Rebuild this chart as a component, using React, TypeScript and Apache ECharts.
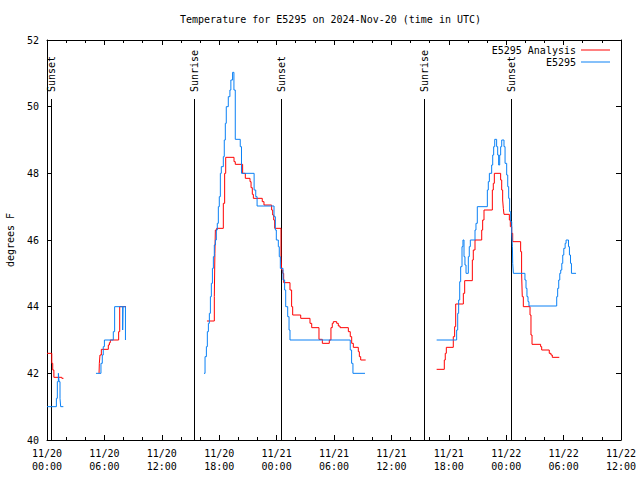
import React, { useEffect, useRef } from "react";
import * as echarts from "echarts";

const FONT = "DejaVu Sans Mono";
const TITLE = "Temperature for E5295 on 2024-Nov-20 (time in UTC)";
const Y_NAME = "degrees F";
const NAME_ANALYSIS = "E5295 Analysis";
const NAME_OBS = "E5295";
const COLOR_ANALYSIS = "#ff0000";
const COLOR_OBS = "#0a80f5";

// axis ranges (hours since 11/20 00:00 UTC)
const X_MIN = 0;
const X_MAX = 60;
const X_STEP = 6;
const Y_MIN = 40;
const Y_MAX = 52;
const Y_STEP = 2;

// sunrise / sunset markers
const sunTimes = [0.49, 15.37, 24.46, 39.44, 48.53];
const sunLabels = ["Sunset", "Sunrise", "Sunset", "Sunrise", "Sunset"];
const SUN_LINE_TOP = 50.23;
const SUN_LABEL_Y = 50.44;

// E5295 Analysis (red), step segments [hour, degF]
const analysisSeg1 = [[0, 42.6], [0.5, 42.3], [0.6, 42.1], [0.72, 41.88], [1.55, 41.85], [1.72, 41.85]];
const analysisSeg2 = [[5.44, 42.0], [5.47, 42.3], [5.54, 42.55], [5.68, 42.72], [6.41, 42.85], [6.52, 42.92], [6.62, 43.0], [7.49, 43.25], [7.6, 44.0], [8.26, 44.0]];
const analysisSeg3 = [[16.72, 43.57], [17.49, 44.3], [17.55, 45.6], [17.6, 46.3], [17.73, 46.35], [18.43, 47.1], [18.57, 48.0], [18.68, 48.48], [19.55, 48.35], [19.68, 48.27], [20.45, 48.0], [20.73, 47.85], [21.22, 47.75], [21.33, 47.57], [21.46, 47.37], [21.57, 47.25], [22.5, 47.15], [22.68, 47.05], [23.48, 46.9], [23.59, 46.75], [23.7, 46.6], [23.8, 46.35], [24.46, 45.5], [24.53, 45.1], [24.64, 45.0], [24.74, 44.72], [25.4, 44.5], [25.57, 44.0], [25.68, 43.75], [26.52, 43.65], [27.49, 43.5], [27.67, 43.37], [28.43, 43.02], [28.78, 42.9], [29.51, 43.0], [29.68, 43.37], [29.82, 43.5], [29.93, 43.55], [30.28, 43.5], [30.45, 43.42], [30.63, 43.37], [31.5, 43.25], [31.7, 43.1], [31.85, 42.9], [32.02, 42.78], [32.54, 42.65], [32.65, 42.5], [32.79, 42.4], [33.31, 42.4]];
const analysisSeg4 = [[40.73, 42.12], [41.53, 42.4], [41.63, 42.6], [41.74, 42.78], [42.47, 43.1], [42.61, 43.4], [42.72, 44.08], [43.52, 44.4], [43.66, 44.78], [44.46, 45.4], [44.56, 45.7], [44.74, 46.0], [45.44, 46.3], [45.54, 46.6], [45.68, 46.9], [46.55, 47.5], [46.65, 47.7], [46.76, 48.0], [47.42, 47.8], [47.53, 47.5], [47.63, 47.2], [47.7, 46.95], [47.77, 46.77], [48.33, 46.6], [48.43, 46.4], [48.58, 46.2], [48.68, 45.95], [49.51, 45.65], [49.61, 45.0], [49.68, 44.3], [49.79, 44.0], [50.49, 43.75], [50.59, 43.15], [50.7, 42.87], [51.6, 42.8], [51.71, 42.7], [52.5, 42.6], [52.68, 42.55], [52.82, 42.48], [53.55, 42.48]];

// E5295 observed (blue)
const obsSeg1 = [[0, 41.0], [0.98, 41.25], [1.08, 41.75], [1.19, 42.0], [1.26, 41.75], [1.36, 41.25], [1.43, 41.0], [1.71, 41.0]];
const obsSeg2 = [[5.12, 42.0], [5.64, 42.3], [5.78, 42.55], [5.88, 42.8], [6.0, 43.0], [6.93, 43.25], [7.07, 44.0], [7.91, 43.3], [7.95, 44.0], [8.2, 43.0], [8.24, 43.0]];
const obsSeg3 = [[16.41, 42.0], [16.52, 42.5], [16.66, 42.8], [16.76, 43.25], [16.87, 43.5], [16.97, 43.8], [17.08, 44.3], [17.18, 44.7], [17.29, 45.15], [17.39, 45.5], [17.49, 45.85], [17.6, 46.0], [17.7, 46.3], [17.8, 46.5], [17.91, 47.0], [18.01, 47.3], [18.12, 48.0], [18.22, 48.2], [18.43, 48.5], [18.53, 49.0], [18.64, 49.5], [18.74, 50.0], [18.95, 50.3], [19.12, 50.5], [19.22, 50.8], [19.4, 51.03], [19.54, 50.5], [19.68, 49.02], [20.2, 48.8], [20.33, 48.0], [21.65, 47.5], [21.82, 47.3], [21.96, 47.02], [23.73, 46.7], [23.87, 46.3], [23.97, 46.0], [24.18, 45.8], [24.28, 45.5], [24.39, 45.15], [24.67, 44.8], [24.84, 44.5], [24.95, 44.0], [25.16, 43.7], [25.3, 43.3], [25.4, 43.0], [31.7, 42.7], [31.84, 42.3], [31.98, 42.0], [33.24, 42.0]];
const obsSeg4 = [[40.73, 43.0], [42.82, 43.3], [42.93, 43.8], [43.03, 44.2], [43.14, 44.75], [43.24, 45.2], [43.38, 45.8], [43.48, 46.0], [43.59, 45.5], [43.69, 45.25], [43.8, 45.0], [44.04, 45.5], [44.14, 45.8], [44.25, 46.0], [44.74, 46.3], [44.84, 46.5], [44.98, 47.0], [46.03, 47.5], [46.13, 47.75], [46.24, 48.0], [46.48, 48.25], [46.59, 48.55], [46.69, 48.8], [46.8, 49.02], [47.0, 48.8], [47.11, 48.55], [47.21, 48.25], [47.32, 48.55], [47.42, 48.8], [47.53, 49.0], [47.77, 48.8], [47.88, 48.3], [48.05, 47.95], [48.16, 47.6], [48.26, 47.25], [48.36, 46.85], [48.47, 46.55], [48.58, 46.2], [48.65, 45.8], [48.68, 45.3], [48.75, 45.0], [49.96, 44.8], [50.07, 44.55], [50.17, 44.3], [50.28, 44.15], [50.38, 44.02], [53.28, 44.3], [53.38, 44.55], [53.49, 44.8], [53.6, 45.0], [53.7, 45.1], [53.81, 45.3], [53.91, 45.55], [54.02, 45.75], [54.16, 45.9], [54.26, 46.0], [54.51, 45.8], [54.61, 45.55], [54.72, 45.3], [54.82, 45.0], [55.3, 45.0]];

const analysisSegments = [analysisSeg1, analysisSeg2, analysisSeg3, analysisSeg4];
const obsSegments = [obsSeg1, obsSeg2, obsSeg3, obsSeg4];

const pad2 = (n: number) => (n < 10 ? "0" + n : "" + n);
const fmtHour = (v: number) => {
  const day = 20 + Math.floor(v / 24);
  const hh = ((v % 24) + 24) % 24;
  return `11/${day}\n${pad2(hh)}:00`;
};

const textBase = { fontFamily: FONT, fontSize: 10, color: "#000" };

function stepSeries(name: string, color: string, data: number[][], z: number) {
  return {
    type: "line",
    name,
    data,
    step: "end",
    symbol: "none",
    showSymbol: false,
    silent: true,
    z,
    lineStyle: { color, width: 1 },
    itemStyle: { color },
    emphasis: { disabled: true },
  };
}

export default function App() {
  const ref = useRef<HTMLDivElement>(null);
  useEffect(() => {
    if (!ref.current) return;
    const chart = echarts.init(ref.current, undefined, { renderer: "svg" });
    const axisLine = { show: true, onZero: false, lineStyle: { color: "#000", width: 1 } };
    const xCommon = {
      type: "value",
      min: X_MIN,
      max: X_MAX,
      interval: X_STEP,
      axisLine,
      axisTick: { show: true, inside: true, length: 5, lineStyle: { color: "#000" } },
      minorTick: { show: true, splitNumber: 3, length: 3, lineStyle: { color: "#000" } },
      splitLine: { show: false },
      minorSplitLine: { show: false },
    };
    const yCommon = {
      type: "value",
      min: Y_MIN,
      max: Y_MAX,
      interval: Y_STEP,
      axisLine,
      axisTick: { show: true, inside: true, length: 5, lineStyle: { color: "#000" } },
      splitLine: { show: false },
    };
    const series: any[] = [];
    series.push({
      type: "custom",
      name: "sun",
      data: sunTimes.map((t) => [t]),
      silent: true,
      z: 2,
      renderItem: (params: any, api: any) => {
        const t = api.value(0);
        const pBottom = api.coord([t, Y_MIN]);
        const pTop = api.coord([t, SUN_LINE_TOP]);
        const pLabel = api.coord([t, SUN_LABEL_Y]);
        const x = Math.floor(pBottom[0]) + 0.5;
        return {
          type: "group",
          children: [
            {
              type: "line",
              shape: { x1: x, y1: pBottom[1], x2: x, y2: pTop[1] },
              style: { stroke: "#000", lineWidth: 1 },
            },
            {
              type: "text",
              x: x,
              y: pLabel[1],
              rotation: Math.PI / 2,
              style: {
                text: sunLabels[params.dataIndex],
                align: "left",
                verticalAlign: "middle",
                font: `10px "${FONT}"`,
                fill: "#000",
              },
            },
          ],
        };
      },
    });
    analysisSegments.forEach((d) => series.push(stepSeries(NAME_ANALYSIS, COLOR_ANALYSIS, d, 3)));
    obsSegments.forEach((d) => series.push(stepSeries(NAME_OBS, COLOR_OBS, d, 4)));
    const legendCommon = {
      orient: "vertical",
      align: "right",
      right: 30,
      padding: 0,
      icon: "rect",
      itemWidth: 29,
      itemHeight: 1,
      selectedMode: false,
      textStyle: { ...textBase, lineHeight: 12 },
    };
    chart.setOption({
      animation: false,
      backgroundColor: "#fff",
      title: {
        text: TITLE,
        left: 180,
        top: 14,
        padding: 0,
        textStyle: { ...textBase, fontWeight: "normal" },
      },
      legend: [
        { ...legendCommon, top: 44, data: [NAME_ANALYSIS] },
        { ...legendCommon, top: 56, data: [NAME_OBS] },
      ],
      grid: {
        left: 47,
        right: 19,
        top: 40,
        bottom: 40,
        containLabel: false,
        outerBoundsMode: "none",
      },
      xAxis: [
        {
          ...xCommon,
          position: "bottom",
          axisLabel: { show: true, margin: 7, formatter: fmtHour, lineHeight: 13, ...textBase },
        },
        { ...xCommon, position: "top", axisLabel: { show: false } },
      ],
      yAxis: [
        {
          ...yCommon,
          position: "left",
          name: Y_NAME,
          nameLocation: "middle",
          nameGap: 32,
          nameRotate: 90,
          nameTextStyle: { ...textBase },
          axisLabel: { show: true, margin: 8, ...textBase },
        },
        { ...yCommon, position: "right", axisLabel: { show: false } },
      ],
      series,
    });
    return () => chart.dispose();
  }, []);
  return (
    <div
      ref={ref}
      style={{ position: "fixed", left: 0, top: 0, width: 640, height: 480, background: "#fff" }}
    />
  );
}
